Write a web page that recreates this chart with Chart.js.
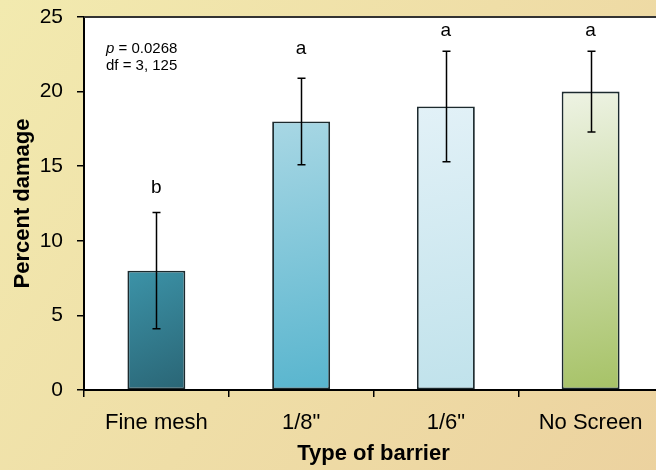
<!DOCTYPE html>
<html><head><meta charset="utf-8">
<script src="https://cdn.jsdelivr.net/npm/chart.js@4/dist/chart.umd.min.js"></script>
<style>
html,body{margin:0;padding:0;overflow:hidden;width:656px;height:470px;background:#EEDDA6;}
#wrap{position:relative;width:664px;height:470px;}
canvas{display:block;}
</style></head><body>
<div id="wrap"><canvas id="c" width="664" height="470" style="width:664px;height:470px"></canvas></div>
<script>
// ---- data ----
const categories = ['Fine mesh', '1/8"', '1/6"', 'No Screen'];
const meanDamage = [8, 18, 19, 20];
const errorSize = [3.9, 2.9, 3.7, 2.7];
const groupLetters = ['b', 'a', 'a', 'a'];
const letterLevel = [13.2, 22.5, 23.7, 23.7];
const yTicks = [0, 5, 10, 15, 20, 25];
const pValue = '0.0268';
const dfText = '3, 125';

// ---- styles ----
const FAMILY = '"Liberation Sans", Arial, Helvetica, sans-serif';
const gradTop = ['#3C93A8', '#A8D7E4', '#E2F1F7', '#EEF3E4'];
const gradBottom = ['#2A6575', '#58B5CE', '#C0E2EB', '#A6C266'];

function barGradient(ctx) {
  const chart = ctx.chart;
  const i = ctx.dataIndex;
  if (!chart.chartArea || i === undefined) return gradTop[i] || '#888';
  const xs = chart.scales.x, ys = chart.scales.y;
  const cx = xs.getPixelForValue(i);
  const half = xs.width / categories.length * 0.2;
  const top = ys.getPixelForValue(meanDamage[i]);
  const bot = ys.getPixelForValue(0);
  const g = chart.ctx.createLinearGradient(cx - half, top, cx + half, bot);
  g.addColorStop(0, gradTop[i]);
  g.addColorStop(1, gradBottom[i]);
  return g;
}

const bgPlugin = {
  id: 'bg',
  beforeDraw(chart) {
    const c = chart.ctx, W = chart.width, H = chart.height, a = chart.chartArea;
    c.save();
    const g = c.createLinearGradient(0, 0, W, H);
    g.addColorStop(0, '#F2EAAF');
    g.addColorStop(1, '#ECD29F');
    c.fillStyle = g;
    c.fillRect(0, 0, W, H);
    c.fillStyle = '#FFFFFF';
    c.fillRect(a.left, a.top, a.right - a.left, a.bottom - a.top);
    c.restore();
  },
  afterDraw(chart) {
    const c = chart.ctx, a = chart.chartArea;
    const xs = chart.scales.x, ys = chart.scales.y;
    c.save();
    // frame top and right
    c.strokeStyle = '#333333';
    c.lineWidth = 2;
    c.beginPath();
    c.moveTo(a.left, a.top);
    c.lineTo(a.right, a.top);
    c.lineTo(a.right, a.bottom);
    c.stroke();
    // error bars
    c.strokeStyle = '#000';
    c.lineWidth = 1.5;
    for (let i = 0; i < meanDamage.length; i++) {
      const x = Math.round(xs.getPixelForValue(i)) + 0.5;
      const yt = ys.getPixelForValue(meanDamage[i] + errorSize[i]);
      const yb = ys.getPixelForValue(meanDamage[i] - errorSize[i]);
      c.beginPath();
      c.moveTo(x, yt); c.lineTo(x, yb);
      c.moveTo(x - 4, yt); c.lineTo(x + 4, yt);
      c.moveTo(x - 4, yb); c.lineTo(x + 4, yb);
      c.stroke();
    }
    // letters
    c.fillStyle = '#000';
    c.font = '19px ' + FAMILY;
    c.textAlign = 'center';
    c.textBaseline = 'alphabetic';
    for (let i = 0; i < groupLetters.length; i++) {
      c.fillText(groupLetters[i], xs.getPixelForValue(i), ys.getPixelForValue(letterLevel[i]));
    }
    // stats
    c.textAlign = 'left';
    const sx = a.left + 22;
    c.font = 'italic 15px ' + FAMILY;
    c.fillText('p', sx, a.top + 36);
    const pw = c.measureText('p').width;
    c.font = '15px ' + FAMILY;
    c.fillText(' = ' + pValue, sx + pw, a.top + 36);
    c.fillText('df = ' + dfText, sx, a.top + 53);
    c.restore();
  }
};

new Chart(document.getElementById('c'), {
  type: 'bar',
  data: {
    labels: categories,
    datasets: [{
      data: meanDamage,
      backgroundColor: barGradient,
      borderColor: '#1C2A2E',
      borderWidth: 1.8,
      borderSkipped: false,
      barPercentage: 0.4,
      categoryPercentage: 1.0
    }]
  },
  options: {
    responsive: false,
    devicePixelRatio: 1,
    animation: false,
    layout: { padding: { top: 17, right: 1, left: 0, bottom: 0 } },
    plugins: { legend: { display: false }, tooltip: { enabled: false } },
    scales: {
      x: {
        grid: { drawOnChartArea: false, drawTicks: true, tickLength: 7, color: '#000', lineWidth: 1.5, offset: true },
        border: { display: true, color: '#000', width: 2 },
        ticks: { color: '#000', font: { size: 22, family: FAMILY }, padding: 13, maxRotation: 0 },
        title: { display: true, text: 'Type of barrier', color: '#000', font: { size: 22, weight: 'bold', family: FAMILY }, padding: { top: 0, bottom: 3 } },
        afterFit: s => { s.height = 80; s.paddingLeft = 0; s.paddingRight = 0; }
      },
      y: {
        min: 0, max: 25,
        afterBuildTicks: s => { s.ticks = yTicks.map(v => ({ value: v })); },
        grid: { drawOnChartArea: false, drawTicks: true, tickLength: 7, color: '#000', lineWidth: 1.5 },
        border: { display: true, color: '#000', width: 2 },
        ticks: { color: '#000', font: { size: 21, family: FAMILY }, padding: 14 },
        title: { display: true, text: 'Percent damage', color: '#000', font: { size: 22, weight: 'bold', family: FAMILY }, padding: { top: 10, bottom: 0 } },
        afterFit: s => { s.width = 84; s.paddingTop = 0; s.paddingBottom = 0; }
      }
    }
  },
  plugins: [bgPlugin]
});
</script>
</body></html>
